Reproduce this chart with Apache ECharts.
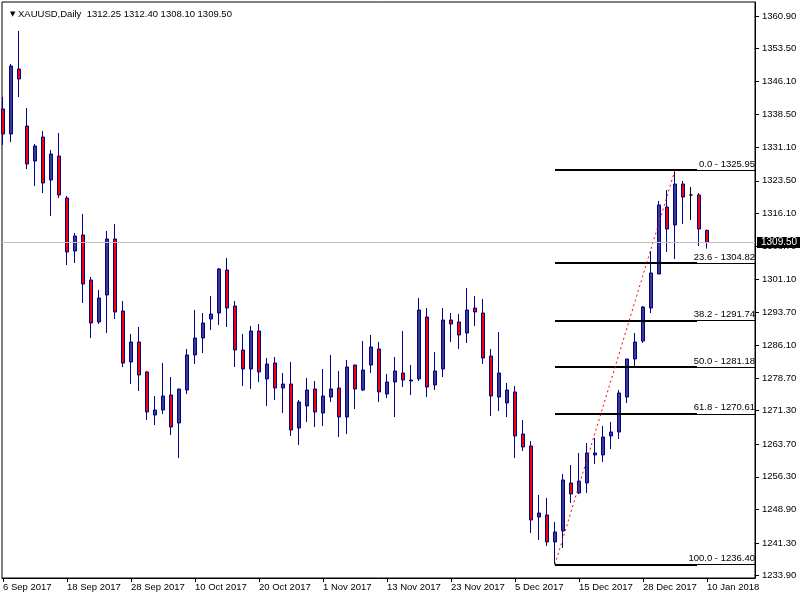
<!DOCTYPE html>
<html><head><meta charset="utf-8">
<script src="https://cdn.jsdelivr.net/npm/echarts@6/dist/echarts.min.js"></script>
<style>html,body{margin:0;padding:0;background:#fff}#c{width:800px;height:600px}</style>
</head><body><div id="c"></div>
<script>
const symbolName = 'XAUUSD,Daily';
const lastOHLC = [1312.25, 1312.40, 1308.10, 1309.50];

const opens = [1339.80,1334.12,1348.88,1335.94,1327.99,1333.44,1323.68,1329.13,1319.59,1307.56,
1311.20,1300.98,1291.45,1297.58,1310.29,1293.94,1282.37,1286.91,1280.10,1270.34,
1271.47,1274.88,1268.52,1276.01,1283.96,1287.81,1292.13,1293.49,1303.25,1295.08,
1285.09,1280.78,1289.40,1278.51,1282.14,1276.46,1277.37,1267.38,1272.38,1276.24,
1270.79,1274.42,1276.46,1269.88,1281.69,1276.01,1281.69,1285.32,1275.10,1277.83,
1279.87,1278.05,1278.51,1292.58,1277.15,1280.78,1291.90,1291.45,1288.95,1294.62,
1293.49,1283.73,1274.42,1273.06,1275.56,1266.02,1263.30,1247.18,1247.64,1241.51,
1244.00,1254.90,1252.63,1254.90,1261.26,1261.26,1265.57,1266.48,1274.42,1283.05,
1287.13,1294.62,1302.34,1317.55,1313.47,1322.77,1320.28,1320.28,1312.25];

const closes = [1334.12,1349.56,1346.61,1327.31,1331.40,1323.00,1329.58,1320.28,1307.34,1310.97,
1300.07,1291.22,1296.89,1310.29,1293.72,1282.14,1286.91,1279.42,1271.02,1271.47,
1274.65,1267.61,1276.24,1283.96,1287.81,1291.22,1293.26,1303.48,1294.62,1285.09,
1280.78,1289.40,1280.10,1281.91,1276.46,1277.37,1266.93,1273.29,1276.01,1271.02,
1274.65,1276.24,1269.88,1281.23,1276.24,1280.55,1285.77,1275.56,1277.83,1280.32,
1278.28,1278.28,1294.17,1276.69,1280.32,1291.90,1290.99,1288.50,1294.17,1293.72,
1283.27,1274.65,1279.87,1276.01,1265.57,1263.07,1246.50,1248.09,1241.51,1243.78,
1255.58,1252.40,1255.35,1261.71,1261.71,1265.34,1266.48,1275.33,1283.05,1286.91,
1294.85,1302.57,1318.01,1312.56,1322.77,1319.82,1320.28,1312.56,1309.50];

const lows = [1331.63,1332.31,1342.52,1326.18,1322.32,1320.73,1315.51,1319.59,1304.39,1304.84,
1295.76,1287.81,1290.99,1288.95,1292.13,1281.23,1277.37,1275.78,1269.20,1268.07,
1270.56,1265.80,1260.57,1275.10,1281.91,1284.41,1289.63,1290.77,1290.31,1281.23,
1276.92,1276.24,1277.83,1272.38,1273.74,1270.79,1265.57,1263.53,1268.75,1267.61,
1267.84,1273.29,1265.34,1266.02,1271.70,1275.78,1279.87,1273.29,1274.19,1269.88,
1276.69,1274.88,1278.05,1274.42,1276.01,1278.96,1286.91,1285.32,1286.68,1290.54,
1281.91,1270.11,1271.24,1269.88,1260.57,1262.16,1243.55,1241.96,1240.60,1236.40,
1240.14,1250.36,1252.40,1252.63,1259.21,1259.67,1262.62,1264.89,1273.06,1281.23,
1286.68,1293.49,1302.34,1307.34,1305.75,1313.69,1314.60,1308.70,1308.10];

const highs = [1342.52,1350.01,1357.50,1340.02,1331.85,1334.80,1330.49,1334.35,1320.05,1311.65,
1315.96,1301.66,1298.71,1312.10,1313.69,1296.21,1288.72,1290.31,1280.32,1274.65,
1282.14,1278.96,1276.24,1285.32,1294.17,1293.49,1297.35,1303.70,1305.97,1296.21,
1288.72,1290.54,1290.99,1283.27,1283.50,1279.87,1282.37,1273.74,1278.73,1278.05,
1280.78,1283.96,1280.32,1282.82,1281.69,1287.13,1288.50,1286.91,1279.64,1283.50,
1289.40,1281.69,1296.89,1294.62,1284.64,1294.62,1293.49,1293.26,1299.16,1297.35,
1296.67,1285.32,1289.18,1277.60,1276.92,1269.20,1264.43,1252.18,1251.49,1246.05,
1256.94,1258.99,1261.71,1263.98,1265.11,1267.84,1268.75,1276.01,1283.05,1288.95,
1295.08,1307.56,1318.91,1321.41,1325.95,1323.45,1322.09,1320.73,1312.40];

const dateLabels = ['6 Sep 2017','18 Sep 2017','28 Sep 2017','10 Oct 2017','20 Oct 2017','1 Nov 2017',
'13 Nov 2017','23 Nov 2017','5 Dec 2017','15 Dec 2017','28 Dec 2017','10 Jan 2018'];
const dateLabelStep = 8;

const priceTicks = [1360.90,1353.50,1346.10,1338.50,1331.10,1323.50,1316.10,1308.70,1301.10,
1293.70,1286.10,1278.70,1271.30,1263.70,1256.30,1248.90,1241.30,1233.90];

const fibRatios = ['0.0','23.6','38.2','50.0','61.8','100.0'];
const fibValues = [1325.95,1304.82,1291.74,1281.18,1270.61,1236.40];
const fibStartBar = 69;
const fibTopBar = 84;
const dojiBars = [86];

const yMin = 1233.33, yMax = 1364.09;
const xMin = -0.125, xMax = 94;
const fibLabelBar = 86.75;

const FONT = 'Liberation Sans';
const FS = 9.5;
const seriesData = opens.map((o, i) => {
  const item = { value: [i, o, closes[i], lows[i], highs[i]] };
  if (dojiBars.includes(i)) {
    item.itemStyle = { color: '#000', color0: '#000', borderColor: '#000', borderColor0: '#000', borderColorDoji: '#000' };
  }
  return item;
});

const markData = [];
fibValues.forEach((v, k) => {
  markData.push([
    { coord: [fibStartBar, v], lineStyle: { color: '#000', width: 2, type: 'solid' }, label: { show: false } },
    { coord: [fibLabelBar, v] }
  ]);
  markData.push([
    { coord: [fibLabelBar, v], lineStyle: { color: '#000', width: 1, type: 'solid' },
      label: { show: true, position: 'insideEndTop', distance: [0, 1], formatter: fibRatios[k] + ' - ' + v.toFixed(2),
        color: '#000', fontFamily: FONT, fontSize: FS } },
    { coord: [xMax, v] }
  ]);
});
markData.push([
  { coord: [fibStartBar, lows[fibStartBar]], lineStyle: { color: '#ff0000', width: 1, type: [2, 3] }, label: { show: false } },
  { coord: [fibTopBar, highs[fibTopBar]] }
]);
markData.push({
  yAxis: lastOHLC[3],
  lineStyle: { color: '#c0c0c0', width: 1, type: 'solid' },
  label: { show: true, position: 'end', distance: 2, formatter: lastOHLC[3].toFixed(2),
    backgroundColor: '#000', color: '#fff', fontFamily: FONT, fontSize: 10, padding: [1, 4, 0, 4] }
});

const chart = echarts.init(document.getElementById('c'), null, { renderer: 'canvas' });
chart.setOption({
  animation: false,
  backgroundColor: '#fff',
  title: {
    left: 5, top: 4,
    text: '{tri|▼} ' + symbolName + '  ' + lastOHLC.map(v => v.toFixed(2)).join(' '),
    textStyle: { fontFamily: FONT, fontSize: FS, fontWeight: 'normal', color: '#000',
      rich: { tri: { fontSize: 7, color: '#000', fontFamily: 'DejaVu Sans' } } }
  },
  grid: { left: 2, right: 45, top: 2, bottom: 22, show: true, borderColor: '#000', borderWidth: 1, backgroundColor: '#fff' },
  xAxis: {
    type: 'value', min: xMin, max: xMax,
    axisLine: { show: true, onZero: false, lineStyle: { color: '#000', width: 1 } },
    axisTick: { show: true, length: 4, customValues: dateLabels.map((d, i) => i * dateLabelStep), lineStyle: { color: '#000' } },
    axisLabel: { show: true, customValues: dateLabels.map((d, i) => i * dateLabelStep), align: 'left', margin: 4,
      formatter: v => dateLabels[Math.round(v / dateLabelStep)], color: '#000', fontFamily: FONT, fontSize: FS },
    splitLine: { show: false }
  },
  yAxis: {
    type: 'value', position: 'right', min: yMin, max: yMax, scale: true,
    axisLine: { show: true, onZero: false, lineStyle: { color: '#000', width: 1 } },
    axisTick: { show: true, length: 4, customValues: priceTicks, lineStyle: { color: '#000' } },
    axisLabel: { show: true, customValues: priceTicks, margin: 7, formatter: v => v.toFixed(2),
      color: '#000', fontFamily: FONT, fontSize: FS },
    splitLine: { show: false }
  },
  series: [{
    type: 'candlestick',
    encode: { x: 0, y: [1, 2, 3, 4] },
    barWidth: 4,
    clip: true,
    itemStyle: { color: '#3a3a8e', color0: '#ff0000', borderColor: '#00008b', borderColor0: '#00008b', borderWidth: 1 },
    data: seriesData,
    markLine: { symbol: 'none', silent: true, animation: false, precision: 2, data: markData }
  }]
});
</script></body></html>
